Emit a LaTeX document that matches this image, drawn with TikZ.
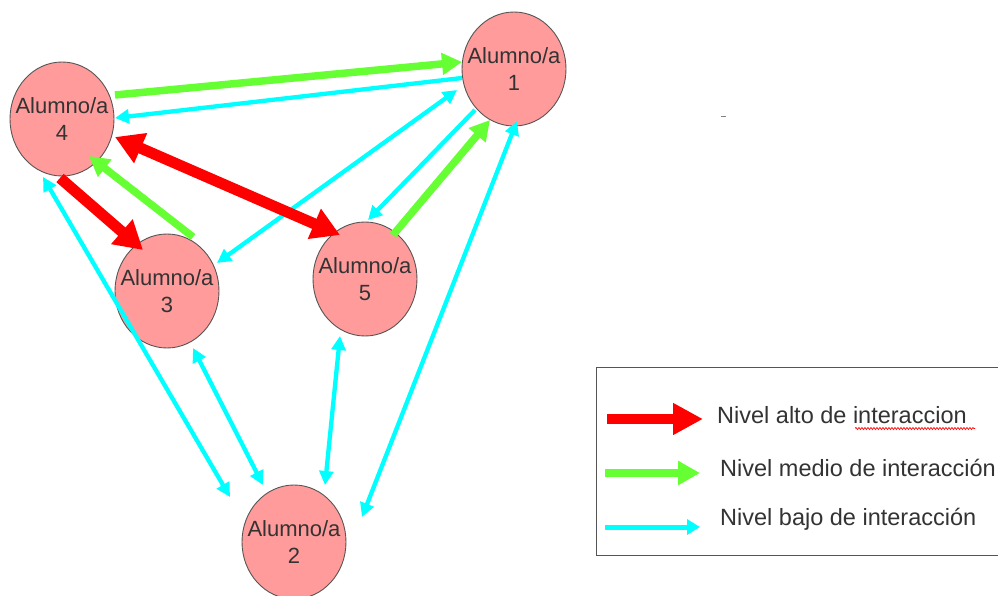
\documentclass[tikz,border=0pt]{standalone}
\usepackage{fontspec}
\setmainfont{Liberation Sans}
\usetikzlibrary{arrows.meta,shapes.geometric,calc,decorations.pathmorphing}
\definecolor{nodefill}{HTML}{FF9B9B}
\definecolor{nodeline}{HTML}{555555}
\definecolor{txt}{HTML}{333333}
\definecolor{hi}{HTML}{FF0000}
\definecolor{mid}{HTML}{66FF33}
\definecolor{lo}{HTML}{00FFFF}
\tikzset{
  alumno/.style={ellipse,draw=nodeline,line width=0.9pt,fill=nodefill,
    minimum width=104pt,minimum height=114pt,inner sep=0pt,
    label={[text=txt,font=\fontsize{22}{27}\selectfont,align=center,inner sep=0pt]center:#1}},
  hiarrow/.style={draw=hi,line width=11pt,-{Triangle[length=28pt,width=31pt]}},
  hiboth/.style={draw=hi,line width=11pt,{Triangle[length=28pt,width=31pt]}-{Triangle[length=28pt,width=31pt]}},
  midarrow/.style={draw=mid,line width=7.5pt,-{Triangle[length=20pt,width=21pt]}},
  loarrow/.style={draw=lo,line width=4.3pt,-{Triangle[length=14pt,width=14pt]}},
  loboth/.style={draw=lo,line width=4.3pt,{Triangle[length=14pt,width=14pt]}-{Triangle[length=14pt,width=14pt]}},
  legtext/.style={anchor=west,text=txt,font=\fontsize{23.5}{27}\selectfont,inner sep=0pt}
}
\begin{document}
\begin{tikzpicture}[x=1pt,y=-1pt]
\useasboundingbox (0,0) rectangle (998,596);
\fill[white] (0,0) rectangle (998,596);

% nodes
\node[alumno={Alumno/a\\4}] (n4) at (62,119) {};
\node[alumno={Alumno/a\\1}] (n1) at (514,69) {};
\node[alumno={Alumno/a\\3}] (n3) at (167,291) {};
\node[alumno={Alumno/a\\5}] (n5) at (365,279) {};
\node[alumno={Alumno/a\\2}] (n2) at (294,542) {};

% low level (cyan)
\draw[loarrow] ($(n1)+(-52,9)$) -- ($(n4)+(53,-1)$);
\draw[loboth] ($(n3)+(50,-28)$) -- ($(n1)+(-57,21)$);
\draw[loarrow] ($(n1)+(-39,41)$) -- ($(n5)+(3,-59)$);
\draw[loboth] ($(n2)+(68,-25)$) -- ($(n1)+(3,52)$);
\draw[loboth] ($(n4)+(-19,58)$) -- ($(n2)+(-64,-45)$);
\draw[loboth] ($(n3)+(26,57)$) -- ($(n2)+(-31,-57)$);
\draw[loboth] ($(n5)+(-25,57)$) -- ($(n2)+(31,-57)$);

% medium level (green)
\draw[midarrow] ($(n4)+(53,-24)$) -- ($(n1)+(-52,-7)$);
\draw[midarrow] ($(n3)+(26,-54)$) -- ($(n4)+(27,37)$);
\draw[midarrow] ($(n5)+(28,-44)$) -- ($(n1)+(-24,51)$);

% high level (red)
\draw[hiboth] ($(n4)+(53,18)$) -- ($(n5)+(-25,-44)$);
\draw[hiarrow] ($(n4)+(-2,59)$) -- ($(n3)+(-24,-41)$);

% stray mark
\draw[gray,line width=1pt] (721,116.5) -- (726,116.5);

% legend
\draw[nodeline,line width=1pt] (596,367) rectangle (1005,555);
\coordinate (lr1) at (607,419);
\coordinate (lr2) at (703,419);
\coordinate (lg1) at (605,473);
\coordinate (lg2) at (700,473);
\coordinate (lc1) at (605,527);
\coordinate (lc2) at (700,527);
\draw[draw=hi,line width=10pt,-{Triangle[length=30pt,width=30pt]}] (lr1) -- (lr2);
\draw[draw=mid,line width=8pt,-{Triangle[length=22pt,width=23pt]}] (lg1) -- (lg2);
\draw[draw=lo,line width=5pt,-{Triangle[length=13pt,width=15pt]}] (lc1) -- (lc2);
\node[legtext] (t1) at (717,415) {Nivel alto de interaccion};
\node[legtext] (t2) at (720,468) {Nivel medio de interacción};
\node[legtext] (t3) at (720,519) {Nivel bajo de interacción};
\draw[hi,line width=0.7pt,decorate,decoration={snake,amplitude=1pt,segment length=3pt}]
  (855,428.5) -- (975,428.5);
\end{tikzpicture}
\end{document}
